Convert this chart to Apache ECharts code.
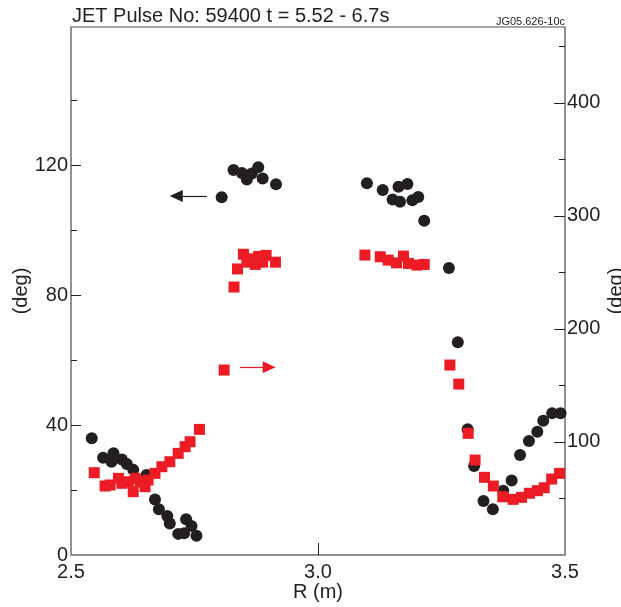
<!DOCTYPE html>
<html>
<head>
<meta charset="utf-8">
<script src="https://cdn.jsdelivr.net/npm/echarts@6/dist/echarts.min.js"></script>
<style>html,body{margin:0;padding:0;background:#fff}#c{width:621px;height:607px}</style>
</head>
<body>
<div id="c"></div>
<script>
// ---- data ----
const titleText = 'JET Pulse No: 59400 t = 5.52 - 6.7s';
const figId = 'JG05.626-10c';
const xTicks = [2.5, 3.0, 3.5];
const leftTicks = [0, 40, 80, 120];
const rightTicks = [100, 200, 300, 400];

// black circles (left axis, deg)
const blackR = [2.542,2.565,2.582,2.586,2.603,2.613,2.626,2.653,2.670,2.678,2.695,2.700,2.717,2.729,2.733,2.744,2.754,
  2.805,2.829,2.846,2.856,2.866,2.879,2.888,2.915,
  3.099,3.131,3.151,3.163,3.166,3.181,3.191,3.203,3.215,
  3.265,3.283,3.303,3.316,3.335,3.354,3.375,3.392,3.409,3.427,3.444,3.456,3.474,3.491];
const blackDeg = [35.9,29.9,28.7,31.3,29.4,28.0,26.2,24.6,17.1,14.1,12.0,9.7,6.5,6.7,11.0,8.9,5.9,
  110.1,118.5,117.6,115.6,117.4,119.3,115.9,114.1,
  114.4,112.3,109.4,113.3,108.7,114.2,109.2,110.2,102.9,
  88.3,65.5,38.7,27.4,16.6,14.1,19.8,22.9,30.8,35.1,37.9,41.3,43.6,43.6];

// red squares (right axis, deg)
const redR = [2.547,2.569,2.579,2.596,2.603,2.616,2.626,2.630,2.640,2.650,2.656,2.670,2.684,2.700,2.717,2.731,2.741,2.760,
  2.810,2.830,2.837,2.849,2.856,2.866,2.873,2.880,2.888,2.895,2.914,
  3.095,3.126,3.142,3.159,3.173,3.183,3.200,3.215,
  3.267,3.285,3.304,3.318,3.337,3.355,3.374,3.395,3.412,3.428,3.444,3.458,3.473,3.489];
const redDeg = [72.8,61.0,61.9,67.8,63.4,64.8,56.0,67.8,64.8,60.4,66.3,72.2,78.1,82.5,89.9,95.8,100.2,111.1,
  163.6,237,253,266,259,262,257,264,259,265,259,
  265.3,263.8,260.8,258.4,264.4,257.9,256.4,257.0,
  168.0,151.2,107.6,84.0,68.7,61.0,51.5,49.2,51.0,54.6,56.9,59.5,67.2,72.2];

// annotation arrows (data space): [startR, endR, value]
const blackArrow = [2.775, 2.713, 110.5];
const redArrow = [2.842, 2.901, 166];

// ---- chart ----
const FONT = '"Liberation Sans", Arial, sans-serif';
const INK = '#231f20';
const FRAME = '#8a8a8a';
const chart = echarts.init(document.getElementById('c'), null, {renderer: 'canvas'});
const zip = (a, b) => a.map((v, i) => [v, b[i]]);

chart.setOption({
  animation: false,
  backgroundColor: '#fff',
  textStyle: {fontFamily: FONT},
  grid: {left: 71, right: 56, top: 27, bottom: 52, outerBoundsMode: 'none', containLabel: false,
    show: true, borderColor: FRAME, borderWidth: 1.5, backgroundColor: 'transparent'},
  graphic: [
    {type: 'text', left: 72, top: 6, style: {text: titleText, font: '20px ' + FONT, fill: INK}},
    {type: 'text', right: 56, top: 16, style: {text: figId, font: '11px ' + FONT, fill: INK}}
  ],
  xAxis: {
    type: 'value', min: 2.5, max: 3.5, interval: 0.5,
    name: 'R (m)', nameLocation: 'middle', nameGap: 27, nameMoveOverlap: false,
    nameTextStyle: {fontSize: 20, color: INK, fontFamily: FONT},
    axisLine: {show: true, lineStyle: {color: FRAME, width: 1.5}},
    axisTick: {show: true, inside: true, length: 12, customValues: [3.0], lineStyle: {color: INK, width: 1}},
    axisLabel: {fontSize: 20, color: INK, margin: 7, customValues: xTicks, formatter: v => v.toFixed(1)},
    splitLine: {show: false}
  },
  yAxis: [
    {
      type: 'value', min: 0, max: 162.5, interval: 40, position: 'left',
      name: '(deg)', nameLocation: 'middle', nameGap: 40, nameRotate: 90, nameMoveOverlap: false,
      nameTextStyle: {fontSize: 20, color: INK, fontFamily: FONT},
      axisLine: {show: true, lineStyle: {color: FRAME, width: 1.5}},
      axisTick: {show: true, inside: true, length: 10, customValues: [40, 80, 120], lineStyle: {color: INK, width: 1}},
      minorTick: {show: true, splitNumber: 2, length: 6, lineStyle: {color: INK, width: 1}},
      axisLabel: {fontSize: 20, color: INK, margin: 3, customValues: leftTicks},
      splitLine: {show: false}, minorSplitLine: {show: false}
    },
    {
      type: 'value', min: 0, max: 467, interval: 100, position: 'right',
      name: '(deg)', nameLocation: 'middle', nameGap: 41, nameRotate: 90, nameMoveOverlap: false,
      nameTextStyle: {fontSize: 20, color: INK, fontFamily: FONT},
      axisLine: {show: true, lineStyle: {color: FRAME, width: 1.5}},
      axisTick: {show: true, inside: true, length: 11, customValues: rightTicks, lineStyle: {color: INK, width: 1}},
      minorTick: {show: true, splitNumber: 2, length: 6, lineStyle: {color: INK, width: 1}},
      axisLabel: {fontSize: 20, color: INK, margin: 2, customValues: rightTicks},
      splitLine: {show: false}, minorSplitLine: {show: false}
    }
  ],
  series: [
    {
      type: 'scatter', yAxisIndex: 0, clip: false, symbol: 'circle', symbolSize: 12,
      itemStyle: {color: INK, opacity: 1},
      data: zip(blackR, blackDeg),
      markLine: {
        silent: true, animation: false, symbol: ['none', 'triangle'], symbolSize: [12, 13],
        label: {show: false},
        lineStyle: {color: INK, width: 1.2, type: 'solid'},
        data: [[{coord: [blackArrow[0], blackArrow[2]]}, {coord: [blackArrow[1], blackArrow[2]]}]]
      }
    },
    {
      type: 'scatter', yAxisIndex: 1, clip: false, symbol: 'rect', symbolSize: 11,
      itemStyle: {color: '#ed1c24', opacity: 1},
      data: zip(redR, redDeg),
      markLine: {
        silent: true, animation: false, symbol: ['none', 'triangle'], symbolSize: [12, 13],
        label: {show: false},
        lineStyle: {color: '#ed1c24', width: 1.2, type: 'solid'},
        data: [[{coord: [redArrow[0], redArrow[2]]}, {coord: [redArrow[1], redArrow[2]]}]]
      }
    }
  ]
});
</script>
</body>
</html>
